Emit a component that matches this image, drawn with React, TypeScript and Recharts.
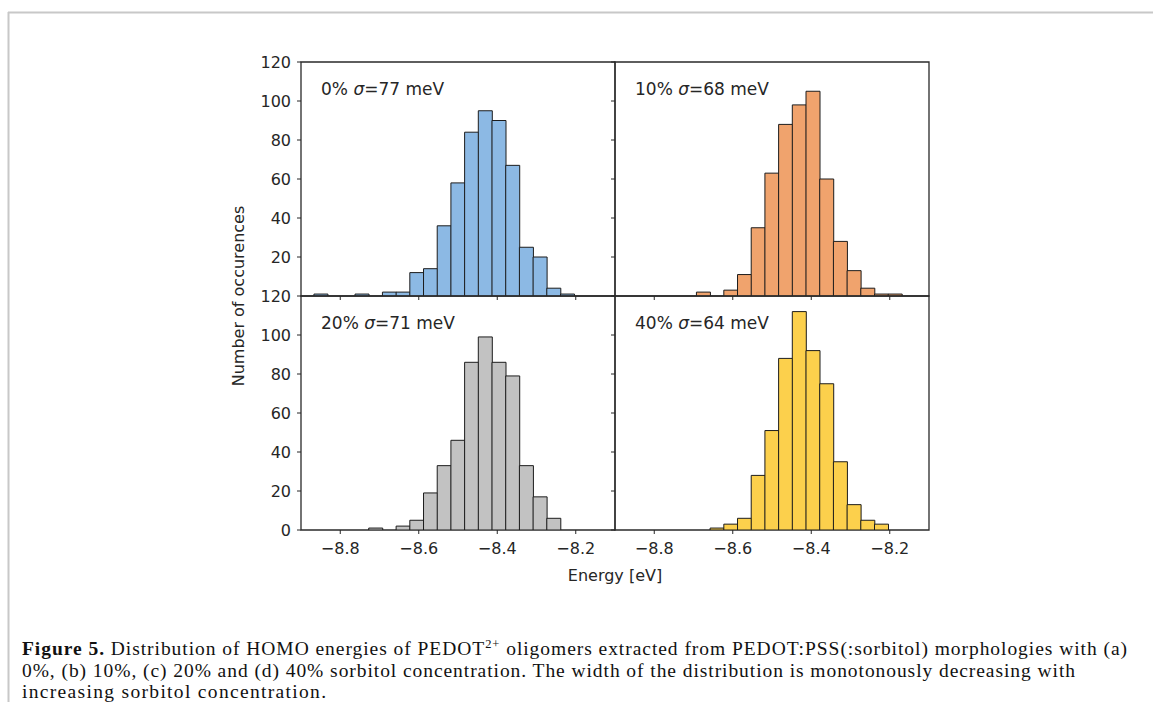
import { BarChart, Bar, XAxis, YAxis, ReferenceArea } from 'recharts';

// shared histogram bin centres (eV)
const energy = [
  -8.8496, -8.8147, -8.7798, -8.7449, -8.71, -8.6751, -8.6402, -8.6053, -8.5704, -8.5355,
  -8.5006, -8.4657, -8.4308, -8.3959, -8.361, -8.3261, -8.2912, -8.2563, -8.2214, -8.1865,
];

const counts0 = [1, 0, 0, 1, 0, 2, 2, 12, 14, 36, 58, 84, 95, 90, 67, 25, 20, 4, 1, 0];
const counts10 = [0, 0, 0, 0, 0, 2, 0, 3, 11, 35, 63, 88, 98, 105, 60, 28, 13, 4, 1, 1];
const counts20 = [0, 0, 0, 0, 1, 0, 2, 5, 19, 33, 46, 86, 99, 86, 79, 33, 17, 6, 0, 0];
const counts40 = [0, 0, 0, 0, 0, 0, 1, 3, 6, 28, 51, 88, 112, 92, 75, 35, 13, 5, 3, 0];

const concentrations = ['0%', '10%', '20%', '40%'];
const sigmas = [77, 68, 71, 64];

const xTicks = [-8.8, -8.6, -8.4, -8.2];
const yTicksTop = [20, 40, 60, 80, 100, 120];
const yTicksBottom = [0, 20, 40, 60, 80, 100, 120];

const PLOT_W = 314;
const PLOT_H = 234;
const PAD = 12; // room around the plot so edge labels are not clipped
const FONT = 'DejaVu Sans';
const INK = '#262626';

const fmtX = (v: number) => v.toFixed(1).replace('-', '\u2212');

interface PanelProps {
  counts: number[];
  fill: string;
  left: number;
  top: number;
  yLabels: boolean;
  xLabels: boolean;
  yTicks: number[];
}

function Panel({ counts, fill, left, top, yLabels, xLabels, yTicks }: PanelProps) {
  const rows = energy.map((e, i) => ({ e, n: counts[i] }));
  const yW = yLabels ? 60 : 4;
  const xH = xLabels ? 40 : 4;
  return (
    <div style={{ position: 'absolute', left: left - yW, top: top - PAD }}>
      <BarChart
        width={yW + PLOT_W + PAD}
        height={PLOT_H + xH + PAD}
        data={rows}
        margin={{ top: PAD, right: PAD, bottom: 0, left: 0 }}
        barCategoryGap={0}
        barGap={0}
      >
        <XAxis
          type="number"
          dataKey="e"
          domain={[-8.9, -8.1]}
          ticks={xTicks}
          height={xH}
          tickSize={4}
          tickMargin={9}
          axisLine={false}
          tickLine={{ stroke: INK }}
          tick={{ fill: INK, fontSize: 16, fontFamily: FONT }}
          tickFormatter={xLabels ? fmtX : () => ''}
          allowDataOverflow
        />
        <YAxis
          type="number"
          domain={[0, 120]}
          ticks={yTicks}
          width={yW}
          tickSize={4}
          tickMargin={6}
          axisLine={false}
          tickLine={{ stroke: INK }}
          tick={{ fill: INK, fontSize: 16, fontFamily: FONT }}
          tickFormatter={yLabels ? (v: number) => String(v) : () => ''}
          allowDataOverflow
        />
        <Bar dataKey="n" fill={fill} stroke="#1c1c1c" strokeWidth={1} isAnimationActive={false} />
        <ReferenceArea
          x1={-8.9}
          x2={-8.1}
          y1={0}
          y2={120}
          fill="none"
          fillOpacity={0}
          stroke="#2a2a2a"
          strokeWidth={1.3}
          ifOverflow="visible"
        />
      </BarChart>
    </div>
  );
}

export default function App() {
  const panels = [
    { counts: counts0, fill: '#8cb9e4', left: 301, top: 62, yLabels: true, xLabels: false, yTicks: yTicksTop },
    { counts: counts10, fill: '#f0a36d', left: 615, top: 62, yLabels: false, xLabels: false, yTicks: yTicksTop },
    { counts: counts20, fill: '#c2c2c2', left: 301, top: 296, yLabels: true, xLabels: true, yTicks: yTicksBottom },
    { counts: counts40, fill: '#fcd04c', left: 615, top: 296, yLabels: false, xLabels: true, yTicks: yTicksBottom },
  ];

  return (
    <div style={{ position: 'absolute', left: 0, top: 0, width: 1153, height: 702, background: '#fff' }}>
      {panels.map((p, i) => (
        <Panel key={i} {...p} />
      ))}
      <svg
        width={1153}
        height={702}
        style={{ position: 'absolute', left: 0, top: 0, pointerEvents: 'none' }}
      >
        {/* page frame */}
        <line x1={8} y1={12.5} x2={1153} y2={12.5} stroke="#c8c8c8" strokeWidth={2} />
        <line x1={8.5} y1={12} x2={8.5} y2={702} stroke="#c8c8c8" strokeWidth={2} />

        {panels.map((p, i) => (
          <text key={i} x={p.left + 20} y={p.top + 33} fontFamily={FONT} fontSize={17} fill={INK}>
            {concentrations[i]} <tspan fontStyle="italic">σ</tspan>={sigmas[i]} meV
          </text>
        ))}

        <text
          x={238}
          y={296}
          transform="rotate(-90 238 296)"
          textAnchor="middle"
          dominantBaseline="central"
          fontFamily={FONT}
          fontSize={16}
          fill={INK}
        >
          Number of occurences
        </text>
        <text x={615} y={581} textAnchor="middle" fontFamily={FONT} fontSize={16} fill={INK}>
          Energy [eV]
        </text>

        <g fontFamily="Liberation Serif" fontSize={19.5} fill="#111">
          <text x={22} y={655} textLength={1105} lengthAdjust="spacing">
            <tspan fontWeight="bold">Figure 5.</tspan> Distribution of HOMO energies of PEDOT
            <tspan fontSize={12.5} dy={-7}>2+</tspan>
            <tspan dy={7}> oligomers extracted from PEDOT:PSS(:sorbitol) morphologies with (a)</tspan>
          </text>
          <text x={22} y={677} textLength={1053} lengthAdjust="spacing">
            0%, (b) 10%, (c) 20% and (d) 40% sorbitol concentration. The width of the distribution is monotonously decreasing with
          </text>
          <text x={22} y={698} textLength={304} lengthAdjust="spacing">
            increasing sorbitol concentration.
          </text>
        </g>
      </svg>
    </div>
  );
}
